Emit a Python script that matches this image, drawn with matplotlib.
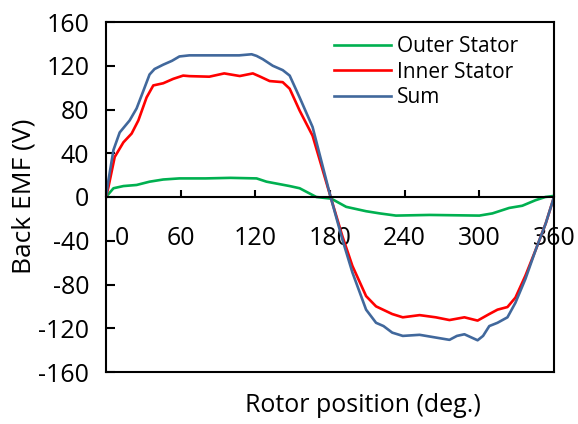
import numpy as np
import matplotlib
matplotlib.use("Agg")
import matplotlib.pyplot as plt
import matplotlib.transforms as mtransforms

plt.rcParams['font.family'] = ['Open Sans', 'DejaVu Sans']
plt.rcParams['axes.unicode_minus'] = False

# back EMF (deg, V)
outer_deg = [0, 6, 14, 24.6, 35, 46, 59, 80, 100, 121, 129, 147.6, 155.6, 169, 181,
             193, 209, 220, 233, 260, 300, 310.5, 324, 334.5, 345, 353, 360]
outer_v = [0, 8, 10, 11, 14, 16, 17, 17, 17.5, 17, 14, 10, 8, 0, -1.5,
           -9, -13, -15, -17, -16.4, -17, -15, -10, -8, -3, 0, 1]

inner_deg = [0, 2, 7, 14, 20.6, 26, 32.6, 38, 46, 54, 62, 67, 83, 95, 107.5, 118, 124,
             131.5, 142, 147.6, 155.6, 166, 180.5, 190, 198, 209, 217, 230, 238.5, 252,
             265, 276, 288, 298.6, 308, 314.6, 322.6, 329, 337, 345.4, 353.4, 360]
inner_v = [0, 9.4, 36.6, 50, 58, 70, 91, 102, 104, 108, 111, 110.5, 110, 113, 110.6, 113, 110,
           106, 105, 99, 79, 56, 0, -36, -63, -90.6, -100, -107, -110, -108,
           -110, -112.5, -110, -113, -107, -103, -100.6, -92, -72, -48, -24, 0]

sum_deg = [0, 2, 6, 11, 19, 24.6, 30, 35, 39, 46, 53, 59, 67, 80, 95, 107, 112, 117, 121,
           126, 134, 142, 147.6, 155.6, 166, 180.5, 190, 198, 209, 217, 223, 230, 238.5,
           252, 265, 276, 282, 288, 298.6, 303, 308, 314.6, 322.6, 329, 337, 345.4, 353.4, 360]
sum_v = [0, 15.5, 43, 59, 70, 81, 97, 112, 117, 121, 124.5, 128.5, 129.5, 129.5, 129.5, 129.5,
         130, 130.5, 129, 126, 120, 116, 111, 91, 64, 0, -39, -69, -103, -115, -118, -124,
         -127, -126, -128.5, -130.6, -127, -125.5, -131, -127, -118, -115, -110, -96.7, -75,
         -48, -24, 0]

x_ticks = [0, 60, 120, 180, 240, 300, 360]
y_ticks = [-160, -120, -80, -40, 0, 40, 80, 120, 160]

fig = plt.figure(figsize=(5.78, 4.24), dpi=100)
ax = fig.add_axes([106 / 578, 52 / 424, 448 / 578, 350 / 424])

ax.plot(outer_deg, outer_v, color='#00B050', lw=1.9, label='Outer Stator', solid_joinstyle='round')
ax.plot(inner_deg, inner_v, color='#FF0000', lw=1.9, label='Inner Stator', solid_joinstyle='round')
ax.plot(sum_deg, sum_v, color='#41689C', lw=1.9, label='Sum', solid_joinstyle='round')

ax.set_xlim(0, 360)
ax.set_ylim(-160, 160)
ax.set_xticks(x_ticks)
ax.set_yticks(y_ticks)

# x axis sits at zero, box drawn around the plot
ax.spines['bottom'].set_position(('data', 0))
ax.plot([0, 1], [0, 0], transform=ax.transAxes, color='k', lw=1.5, clip_on=False)
for s in ax.spines.values():
    s.set_linewidth(1.5)

ax.tick_params(axis='y', direction='in', length=6.5, width=1.5, pad=12, labelsize=18)
ax.tick_params(axis='x', direction='in', length=5, width=1.5, pad=21, labelsize=18)

# the "0" label sits a bit right of the axis in the reference
lbl0 = ax.get_xticklabels()[0]
lbl0.set_transform(lbl0.get_transform() + mtransforms.ScaledTranslation(16 / 100, 0, fig.dpi_scale_trans))

fig.text(363 / 578, 1 - 405 / 424, 'Rotor position (deg.)', ha='center', va='center', fontsize=18)
fig.text(24 / 578, 1 - 196 / 424, 'Back EMF (V)', ha='center', va='center', fontsize=19, rotation=90)

ax.legend(loc='upper left', bbox_to_anchor=(0.51, 0.96), frameon=False, fontsize=15,
          handlelength=2.7, handletextpad=0.3, labelspacing=0.22, borderpad=0, borderaxespad=0)

fig.savefig('out.png', dpi=100)
